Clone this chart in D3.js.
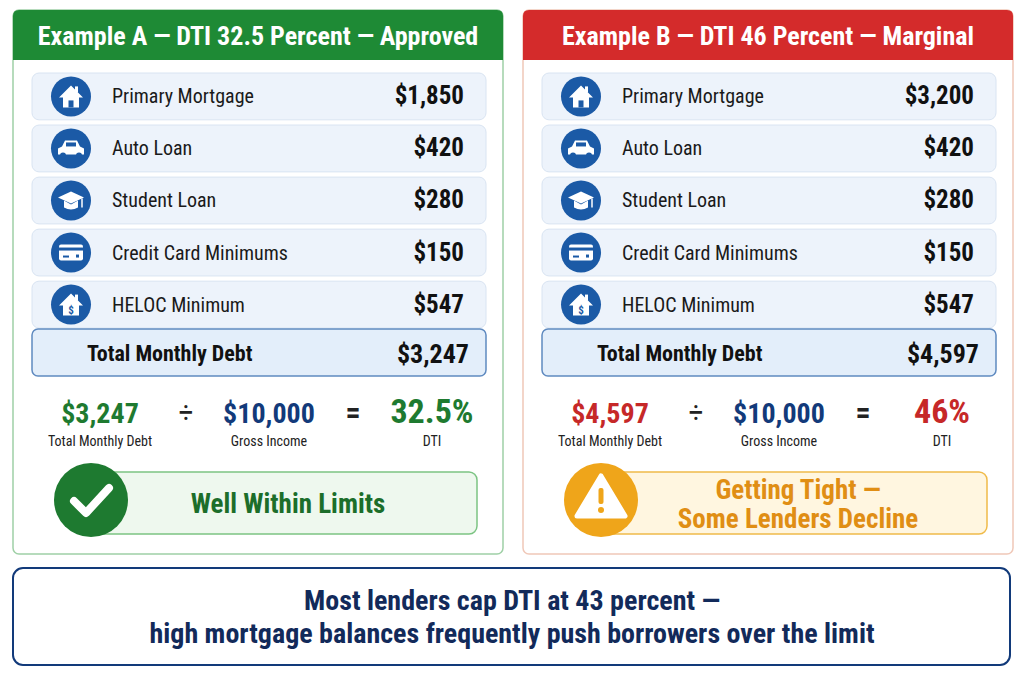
<!DOCTYPE html>
<html><head><meta charset="utf-8">
<script src="https://cdn.jsdelivr.net/npm/d3@7"></script>
<style>body{margin:0;background:#fff}svg{font-family:"Liberation Sans Narrow","Roboto Condensed",Roboto,sans-serif}</style>
</head><body><svg id="c" width="1024" height="683"></svg>
<script>
const categories = ["Primary Mortgage", "Auto Loan", "Student Loan", "Credit Card Minimums", "HELOC Minimum"];
const icons = ["house", "car", "cap", "card", "heloc"];
const valuesA = [1850, 420, 280, 150, 547];
const valuesB = [3200, 420, 280, 150, 547];
const grossIncome = 10000;
const titles = ["Example A — DTI 32.5 Percent — Approved", "Example B — DTI 46 Percent — Marginal"];
const dtiLabels = ["32.5%", "46%"];
const statusLines = [["Well Within Limits"], ["Getting Tight —", "Some Lenders Decline"]];
const footer = ["Most lenders cap DTI at 43 percent —", "high mortgage balances frequently push borrowers over the limit"];

const svg = d3.select("#c");
const fmt = d3.format("$,");
const navy = "#123a7a", iconBlue = "#1b5aa6";

const panels = [
  { x: 13, vals: valuesA, head: "#1e8a35", border: "#9fd0a6", accent: "#1e7a30", bad: "#1e7a30",
    sFill: "#eef8ee", sStroke: "#7cc483", sText: "#1c6e2a", sCircle: "#1e7a30", kind: "ok" },
  { x: 523, vals: valuesB, head: "#d42b2b", border: "#f0c8b8", accent: "#c62828", bad: "#c62828",
    sFill: "#fff6e0", sStroke: "#f0bb4a", sText: "#e08e14", sCircle: "#efa51a", kind: "warn" }
];

const row = d3.scaleBand().domain(d3.range(categories.length)).range([73, 328]).paddingInner(0.1);

function drawIcon(g, type) {
  g.append("circle").attr("r", 20).attr("fill", iconBlue);
  const w = "#fff";
  if (type === "house" || type === "heloc") {
    g.append("path").attr("d", "M-12,1 L0,-11 L12,1 L8,1 L8,11 L-8,11 L-8,1 Z").attr("fill", w);
    g.append("rect").attr("x", 4).attr("y", -10).attr("width", 3).attr("height", 6).attr("fill", w);
    if (type === "house") g.append("rect").attr("x", -2.5).attr("y", 4).attr("width", 5).attr("height", 7).attr("fill", iconBlue);
    else g.append("text").attr("y", 9).attr("text-anchor", "middle").attr("fill", iconBlue).attr("font-size", 11).attr("font-weight", "bold").text("$");
  } else if (type === "car") {
    g.append("path").attr("d", "M-13,6 L-13,0 L-9,-2 L-6,-8 L6,-8 L9,-2 L13,0 L13,6 Z").attr("fill", w);
    g.append("rect").attr("x", -5).attr("y", -6).attr("width", 10).attr("height", 4).attr("fill", iconBlue);
    [-8, 8].forEach(cx => g.append("circle").attr("cx", cx).attr("cy", 7).attr("r", 3).attr("fill", iconBlue));
  } else if (type === "cap") {
    g.append("path").attr("d", "M-13,-3 L0,-9 L13,-3 L0,3 Z").attr("fill", w);
    g.append("path").attr("d", "M-7,0 L-7,7 Q0,11 7,7 L7,0 L0,4 Z").attr("fill", w);
    g.append("line").attr("x1", 11).attr("y1", -2).attr("x2", 11).attr("y2", 7).attr("stroke", w).attr("stroke-width", 1.5);
  } else {
    g.append("rect").attr("x", -12).attr("y", -8).attr("width", 24).attr("height", 16).attr("rx", 2).attr("fill", w);
    g.append("rect").attr("x", -12).attr("y", -5).attr("width", 24).attr("height", 3).attr("fill", iconBlue);
    g.append("rect").attr("x", -8).attr("y", 3).attr("width", 6).attr("height", 2).attr("fill", iconBlue);
    g.append("rect").attr("x", 5).attr("y", 2).attr("width", 3).attr("height", 3).attr("fill", iconBlue);
  }
}

panels.forEach((p, i) => {
  const g = svg.append("g").attr("transform", `translate(${p.x},0)`);
  const W = 490;
  g.append("rect").attr("x", 0).attr("y", 10).attr("width", W).attr("height", 544).attr("rx", 6)
    .attr("fill", "#fff").attr("stroke", p.border).attr("stroke-width", 1.5);
  g.append("path").attr("d", `M0,60 L0,16 Q0,10 6,10 L${W - 6},10 Q${W},10 ${W},16 L${W},60 Z`).attr("fill", p.head);
  g.append("text").attr("x", W / 2).attr("y", 45).attr("text-anchor", "middle").attr("fill", "#fff")
    .attr("font-size", 26).attr("font-weight", "bold").text(titles[i]);

  const rows = g.selectAll(".r").data(p.vals).join("g").attr("transform", (d, k) => `translate(19,${row(k)})`);
  rows.append("rect").attr("width", 454).attr("height", row.bandwidth()).attr("rx", 7)
    .attr("fill", "#edf3fb").attr("stroke", "#d9e4f2");
  rows.each(function (d, k) {
    drawIcon(d3.select(this).append("g").attr("transform", `translate(39,${row.bandwidth() / 2})`), icons[k]);
  });
  rows.append("text").attr("x", 80).attr("y", row.bandwidth() / 2 + 7).attr("font-size", 20).attr("fill", "#1a1a1a")
    .text((d, k) => categories[k]);
  rows.append("text").attr("x", 432).attr("y", row.bandwidth() / 2 + 8).attr("text-anchor", "end")
    .attr("font-size", 25).attr("font-weight", "bold").attr("fill", "#111").text(d => fmt(d));

  const total = d3.sum(p.vals);
  g.append("rect").attr("x", 19).attr("y", 329).attr("width", 454).attr("height", 47).attr("rx", 6)
    .attr("fill", "#e3eefa").attr("stroke", "#5f8ac0").attr("stroke-width", 1.5);
  g.append("text").attr("x", 74).attr("y", 361).attr("font-size", 22).attr("font-weight", "bold").attr("fill", "#111").text("Total Monthly Debt");
  g.append("text").attr("x", 456).attr("y", 363).attr("text-anchor", "end").attr("font-size", 26).attr("font-weight", "bold").attr("fill", "#111").text(fmt(total));

  const fx = [87, 256, 419];
  const big = [[fmt(total), p.accent], [fmt(grossIncome), navy], [dtiLabels[i], p.bad]];
  const small = ["Total Monthly Debt", "Gross Income", "DTI"];
  fx.forEach((x, k) => {
    g.append("text").attr("x", x).attr("y", 423).attr("text-anchor", "middle").attr("font-size", k === 2 ? 34 : 28)
      .attr("font-weight", "bold").attr("fill", big[k][1]).text(big[k][0]);
    g.append("text").attr("x", x).attr("y", 446).attr("text-anchor", "middle").attr("font-size", 14).attr("fill", "#222").text(small[k]);
  });
  g.append("text").attr("x", 173).attr("y", 423).attr("text-anchor", "middle").attr("font-size", 30).attr("fill", "#222").text("÷");
  g.append("text").attr("x", 340).attr("y", 423).attr("text-anchor", "middle").attr("font-size", 30).attr("font-weight", "bold").attr("fill", "#222").text("=");

  g.append("rect").attr("x", 82).attr("y", 472).attr("width", 382).attr("height", 62).attr("rx", 8)
    .attr("fill", p.sFill).attr("stroke", p.sStroke).attr("stroke-width", 1.5);
  const cg = g.append("g").attr("transform", "translate(78,500)");
  cg.append("circle").attr("r", 37).attr("fill", p.sCircle);
  if (p.kind === "ok") {
    cg.append("path").attr("d", "M-17,1 L-5,13 L18,-12").attr("fill", "none").attr("stroke", "#fff").attr("stroke-width", 8).attr("stroke-linecap", "round").attr("stroke-linejoin", "round");
  } else {
    cg.append("path").attr("d", "M0,-24 L24,16 L-24,16 Z").attr("fill", "#fff").attr("stroke", "#fff").attr("stroke-width", 5).attr("stroke-linejoin", "round");
    cg.append("rect").attr("x", -2.5).attr("y", -12).attr("width", 5).attr("height", 16).attr("rx", 2).attr("fill", p.sCircle);
    cg.append("circle").attr("cy", 10).attr("r", 3).attr("fill", p.sCircle);
  }
  const lines = statusLines[i];
  lines.forEach((t, k) => {
    g.append("text").attr("x", 275).attr("y", 513 + (k - (lines.length - 1) / 2) * 29).attr("text-anchor", "middle")
      .attr("font-size", 27).attr("font-weight", "bold").attr("fill", p.sText).text(t);
  });
});

svg.append("rect").attr("x", 13).attr("y", 568).attr("width", 997).attr("height", 97).attr("rx", 10)
  .attr("fill", "#fff").attr("stroke", navy).attr("stroke-width", 2);
footer.forEach((t, k) => svg.append("text").attr("x", 512).attr("y", 610 + k * 33).attr("text-anchor", "middle")
  .attr("font-size", 28).attr("font-weight", "bold").attr("fill", "#122a5a").text(t));
</script></body></html>
